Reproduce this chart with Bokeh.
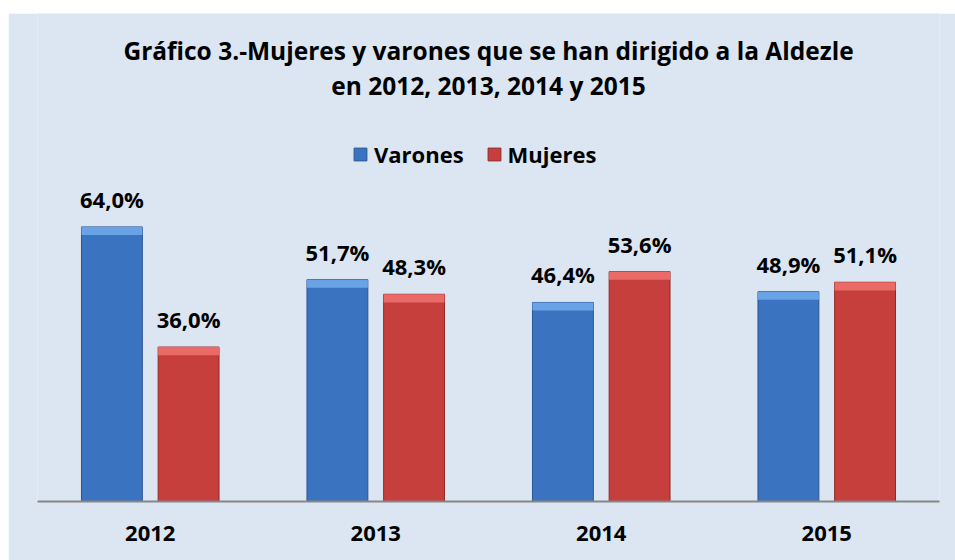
from bokeh.plotting import figure
from bokeh.models import ColumnDataSource, FactorRange, Range1d, Legend, LegendItem, LabelSet, Label
from bokeh.transform import dodge
from bokeh.core.properties import value
from bokeh.embed import file_html
from bokeh.resources import INLINE

# ---- data ----
years = ["2012", "2013", "2014", "2015"]
varones = [64.0, 51.7, 46.4, 48.9]
mujeres = [36.0, 48.3, 53.6, 51.1]
varones_lbl = ["64,0%", "51,7%", "46,4%", "48,9%"]
mujeres_lbl = ["36,0%", "48,3%", "53,6%", "51,1%"]
title_lines = ["Gráfico 3.-Mujeres y varones que se han dirigido a la Aldezle",
               "en 2012, 2013, 2014 y 2015"]
series_names = ["Varones", "Mujeres"]

BG = "#dce6f2"
FONT = "Open Sans"
BEVEL = 1.9  # height of the light top bevel strip, in % units

src = ColumnDataSource(dict(
    year=years, v=varones, m=mujeres,
    v_bev=[x - BEVEL for x in varones], m_bev=[x - BEVEL for x in mujeres],
    vl=varones_lbl, ml=mujeres_lbl,
))

p = figure(width=947, height=547, output_backend="svg", toolbar_location=None,
           x_range=FactorRange(*years, range_padding=0), y_range=Range1d(0, 113.75),
           min_border_left=29, min_border_right=16, min_border_bottom=59, min_border_top=0)
p.margin = (13, 0, 0, 8)
p.background_fill_color = BG
p.border_fill_color = BG
p.outline_line_color = None
p.xgrid.visible = False
p.ygrid.visible = False
p.yaxis.visible = False
p.title.visible = False

# title (two centred lines, placed in the empty upper part of the frame)
for txt, yy in ((title_lines[0], 105.1), (title_lines[1], 97.0)):
    p.add_layout(Label(x=2.0, y=yy, text=txt, text_align="center", text_baseline="alphabetic",
                       text_font=FONT, text_font_size="24.5px", text_font_style="bold",
                       text_color="#000000"))

W = 0.27
OFF = 0.17
rv = p.vbar(x=dodge("year", -OFF, range=p.x_range), top="v", width=W, source=src,
            fill_color="#3a74c0", line_color="#2a5590", line_width=1)
rm = p.vbar(x=dodge("year", OFF, range=p.x_range), top="m", width=W, source=src,
            fill_color="#c73f3d", line_color="#8e2826", line_width=1)
p.vbar(x=dodge("year", -OFF, range=p.x_range), top="v", bottom="v_bev", width=W, source=src,
       fill_color="#6aa2e6", line_color=None)
p.vbar(x=dodge("year", OFF, range=p.x_range), top="m", bottom="m_bev", width=W, source=src,
       fill_color="#ea6a67", line_color=None)

for col, lab, off in (("v", "vl", -OFF), ("m", "ml", OFF)):
    ls = LabelSet(x=dodge("year", off, range=p.x_range), y=col, text=lab, source=src,
                  text_align="center", text_baseline="alphabetic", y_offset=19,
                  text_font=value(FONT), text_font_size=value("22px"),
                  text_font_style=value("bold"), text_color=value("#000000"))
    p.add_layout(ls)

ax = p.xaxis[0]
ax.axis_line_color = "#868686"
ax.axis_line_width = 2
ax.major_tick_line_color = None
ax.minor_tick_line_color = None
ax.major_label_text_font = FONT
ax.major_label_text_font_size = "22px"
ax.major_label_text_font_style = "bold"
ax.major_label_text_color = "#000000"
ax.major_label_standoff = 18

legend = Legend(items=[LegendItem(label=series_names[0], renderers=[rv]),
                       LegendItem(label=series_names[1], renderers=[rm])],
                orientation="horizontal", location=(315, 332),
                background_fill_alpha=0, border_line_color=None,
                glyph_width=16, glyph_height=16, label_standoff=6, spacing=22,
                padding=0, margin=0,
                label_text_font=FONT, label_text_font_size="22px",
                label_text_font_style="bold", label_text_color="#000000")
p.add_layout(legend)

open("out.html", "w").write(file_html(p, INLINE))
